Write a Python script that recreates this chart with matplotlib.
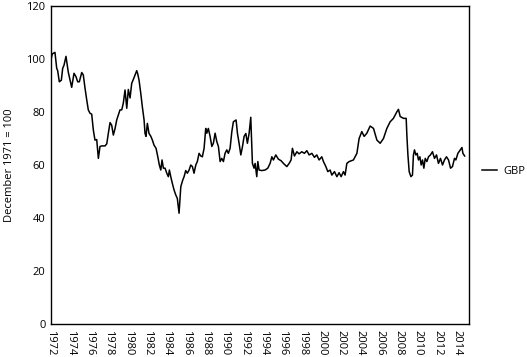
import matplotlib
matplotlib.use("Agg")
import matplotlib.pyplot as plt

years = [1972.03, 1972.13, 1972.41, 1972.52, 1972.59, 1972.69, 1972.86, 1973.07, 1973.21, 1973.35,
         1973.55, 1973.79, 1973.97, 1974.14, 1974.38, 1974.59, 1974.76, 1974.93, 1975.18, 1975.34,
         1975.52, 1975.70, 1975.86, 1976.04, 1976.21, 1976.38, 1976.55, 1976.73, 1976.90, 1977.07,
         1977.25, 1977.59, 1977.77, 1977.93, 1978.11, 1978.28, 1978.45, 1978.63, 1978.80, 1978.97,
         1979.14, 1979.32, 1979.48, 1979.66, 1979.84, 1980.00, 1980.18, 1980.35, 1980.52, 1980.70,
         1980.87, 1980.98, 1981.11, 1981.29, 1981.45, 1981.63, 1981.73, 1981.83, 1981.97, 1982.14,
         1982.32, 1982.49, 1982.66, 1982.87, 1983.05, 1983.21, 1983.36, 1983.49, 1983.63, 1983.80,
         1983.98, 1984.14, 1984.25, 1984.39, 1984.56, 1984.73, 1984.91, 1985.07, 1985.25, 1985.43,
         1985.63, 1985.77, 1985.94, 1986.11, 1986.29, 1986.46, 1986.63, 1986.80, 1986.98, 1987.14,
         1987.32, 1987.50, 1987.66, 1987.84, 1988.01, 1988.12, 1988.28, 1988.46, 1988.64, 1988.80,
         1988.98, 1989.15, 1989.32, 1989.50, 1989.67, 1989.84, 1990.01, 1990.19, 1990.35, 1990.53,
         1990.71, 1990.87, 1991.15, 1991.29, 1991.46, 1991.64, 1991.80, 1991.98, 1992.16, 1992.32,
         1992.50, 1992.67, 1992.84, 1993.01, 1993.12, 1993.29, 1993.40, 1993.53, 1993.81, 1994.15,
         1994.43, 1994.67, 1994.85, 1995.01, 1995.26, 1995.53, 1995.81, 1996.05, 1996.40, 1996.64,
         1996.84, 1996.98, 1997.19, 1997.44, 1997.67, 1997.95, 1998.22, 1998.47, 1998.71, 1998.99,
         1999.26, 1999.50, 1999.74, 2000.02, 2000.19, 2000.44, 2000.64, 2000.88, 2001.06, 2001.33,
         2001.58, 2001.81, 2002.02, 2002.26, 2002.43, 2002.61, 2002.85, 2003.29, 2003.65,
         2003.88, 2004.16, 2004.40, 2004.68, 2005.02, 2005.37, 2005.72, 2006.06, 2006.40, 2006.75,
         2007.09, 2007.43, 2007.79, 2007.95, 2008.13, 2008.47, 2008.75, 2008.82, 2008.93, 2009.06,
         2009.24, 2009.40, 2009.50, 2009.61, 2009.75, 2009.89, 2010.02, 2010.17, 2010.30, 2010.44,
         2010.58, 2010.72, 2010.89, 2011.06, 2011.26, 2011.47, 2011.68, 2011.89, 2012.09, 2012.30,
         2012.51, 2012.71, 2012.92, 2013.13, 2013.34, 2013.54, 2013.75, 2013.89, 2014.10, 2014.34,
         2014.52, 2014.62, 2014.80]

gbp = [100.3, 101.9, 102.5, 99.0, 96.5, 95.6, 91.4, 92.0, 96.5, 97.7,
       101.0, 95.0, 92.0, 89.3, 94.6, 93.3, 91.4, 91.4, 94.9, 94.0,
       89.0, 84.5, 80.8, 79.5, 79.2, 73.2, 69.4, 69.6, 62.5, 67.0,
       67.2, 67.2, 68.0, 71.9, 76.0, 75.0, 71.3, 73.8, 77.0, 78.9,
       80.8, 80.8, 83.3, 88.3, 81.4, 88.5, 85.3, 90.8, 92.3, 94.0,
       95.6, 94.3, 92.0, 87.0, 82.0, 77.0, 71.9, 70.8, 75.7, 71.9,
       70.9, 69.4, 67.5, 66.3, 63.1, 60.0, 58.1, 61.9, 58.8, 58.8,
       56.9, 55.6, 58.1, 55.6, 53.0, 50.6, 48.7, 47.4, 41.8, 51.8,
       54.3, 55.6, 57.9, 56.9, 58.1, 60.0, 59.4, 56.9, 60.0, 61.3,
       64.4, 63.4, 63.1, 66.3, 73.8, 72.0, 73.8, 70.8, 67.0, 68.2,
       72.0, 68.9, 67.0, 61.3, 62.5, 61.3, 64.4, 65.7, 64.4, 66.3,
       72.6, 76.3, 77.0, 72.0, 68.2, 63.8, 66.7, 70.8, 71.9, 68.2,
       72.0, 78.0, 60.6, 58.8, 60.6, 55.6, 61.3, 58.1, 57.9, 58.1,
       58.8, 60.6, 63.1, 61.9, 63.8, 62.2, 61.6, 60.6, 59.4, 60.6,
       61.9, 66.3, 63.4, 65.0, 64.2, 65.0, 64.4, 65.4, 63.8, 64.4,
       62.9, 63.8, 61.9, 63.1, 61.3, 59.4, 57.5, 58.1, 56.2, 57.5,
       55.6, 57.1, 55.6, 57.5, 56.2, 60.6, 61.3, 61.9, 64.4,
       70.0, 72.6, 70.8, 72.0, 74.7, 73.8, 69.4, 68.2, 70.0, 73.8,
       76.3, 77.6, 80.1, 81.0, 78.3, 77.6, 77.6, 71.3, 63.8, 57.5,
       55.6, 56.2, 63.8, 65.7, 63.8, 64.4, 61.9, 63.1, 60.0, 61.9,
       58.8, 62.5, 61.3, 63.1, 63.8, 65.0, 62.5, 63.8, 60.6, 62.5,
       60.0, 61.9, 63.1, 61.9, 58.8, 59.4, 62.5, 61.9, 64.4, 65.7,
       66.6, 64.4, 63.4]

xticks = list(range(1972, 2015, 2))
yticks = [0, 20, 40, 60, 80, 100, 120]

plt.rcParams['font.family'] = ['Open Sans', 'DejaVu Sans']

fig = plt.figure(figsize=(5.27, 3.57), dpi=100)
ax = fig.add_axes([51/527, 33/357, (469-51)/527, (324-6)/357])
ax.plot(years, gbp, color='black', lw=1.1, label='GBP')
ax.set_xlim(1972, 2015.25)
ax.set_ylim(0, 120)
ax.set_xticks(xticks)
ax.set_xticklabels([str(t) for t in xticks], rotation=270, fontsize=8)
ax.set_yticks(yticks)
ax.set_yticklabels([str(t) for t in yticks], fontsize=8)
ax.tick_params(length=0, pad=4)
for s in ax.spines.values():
    s.set_linewidth(1.0)
ax.set_ylabel('December 1971 = 100', fontsize=8, labelpad=8)
ax.legend(loc='center left', bbox_to_anchor=(1.02, 0.48), frameon=False,
          fontsize=8, handlelength=1.4, handletextpad=0.5, borderaxespad=0)
fig.savefig('out.png', dpi=100)
